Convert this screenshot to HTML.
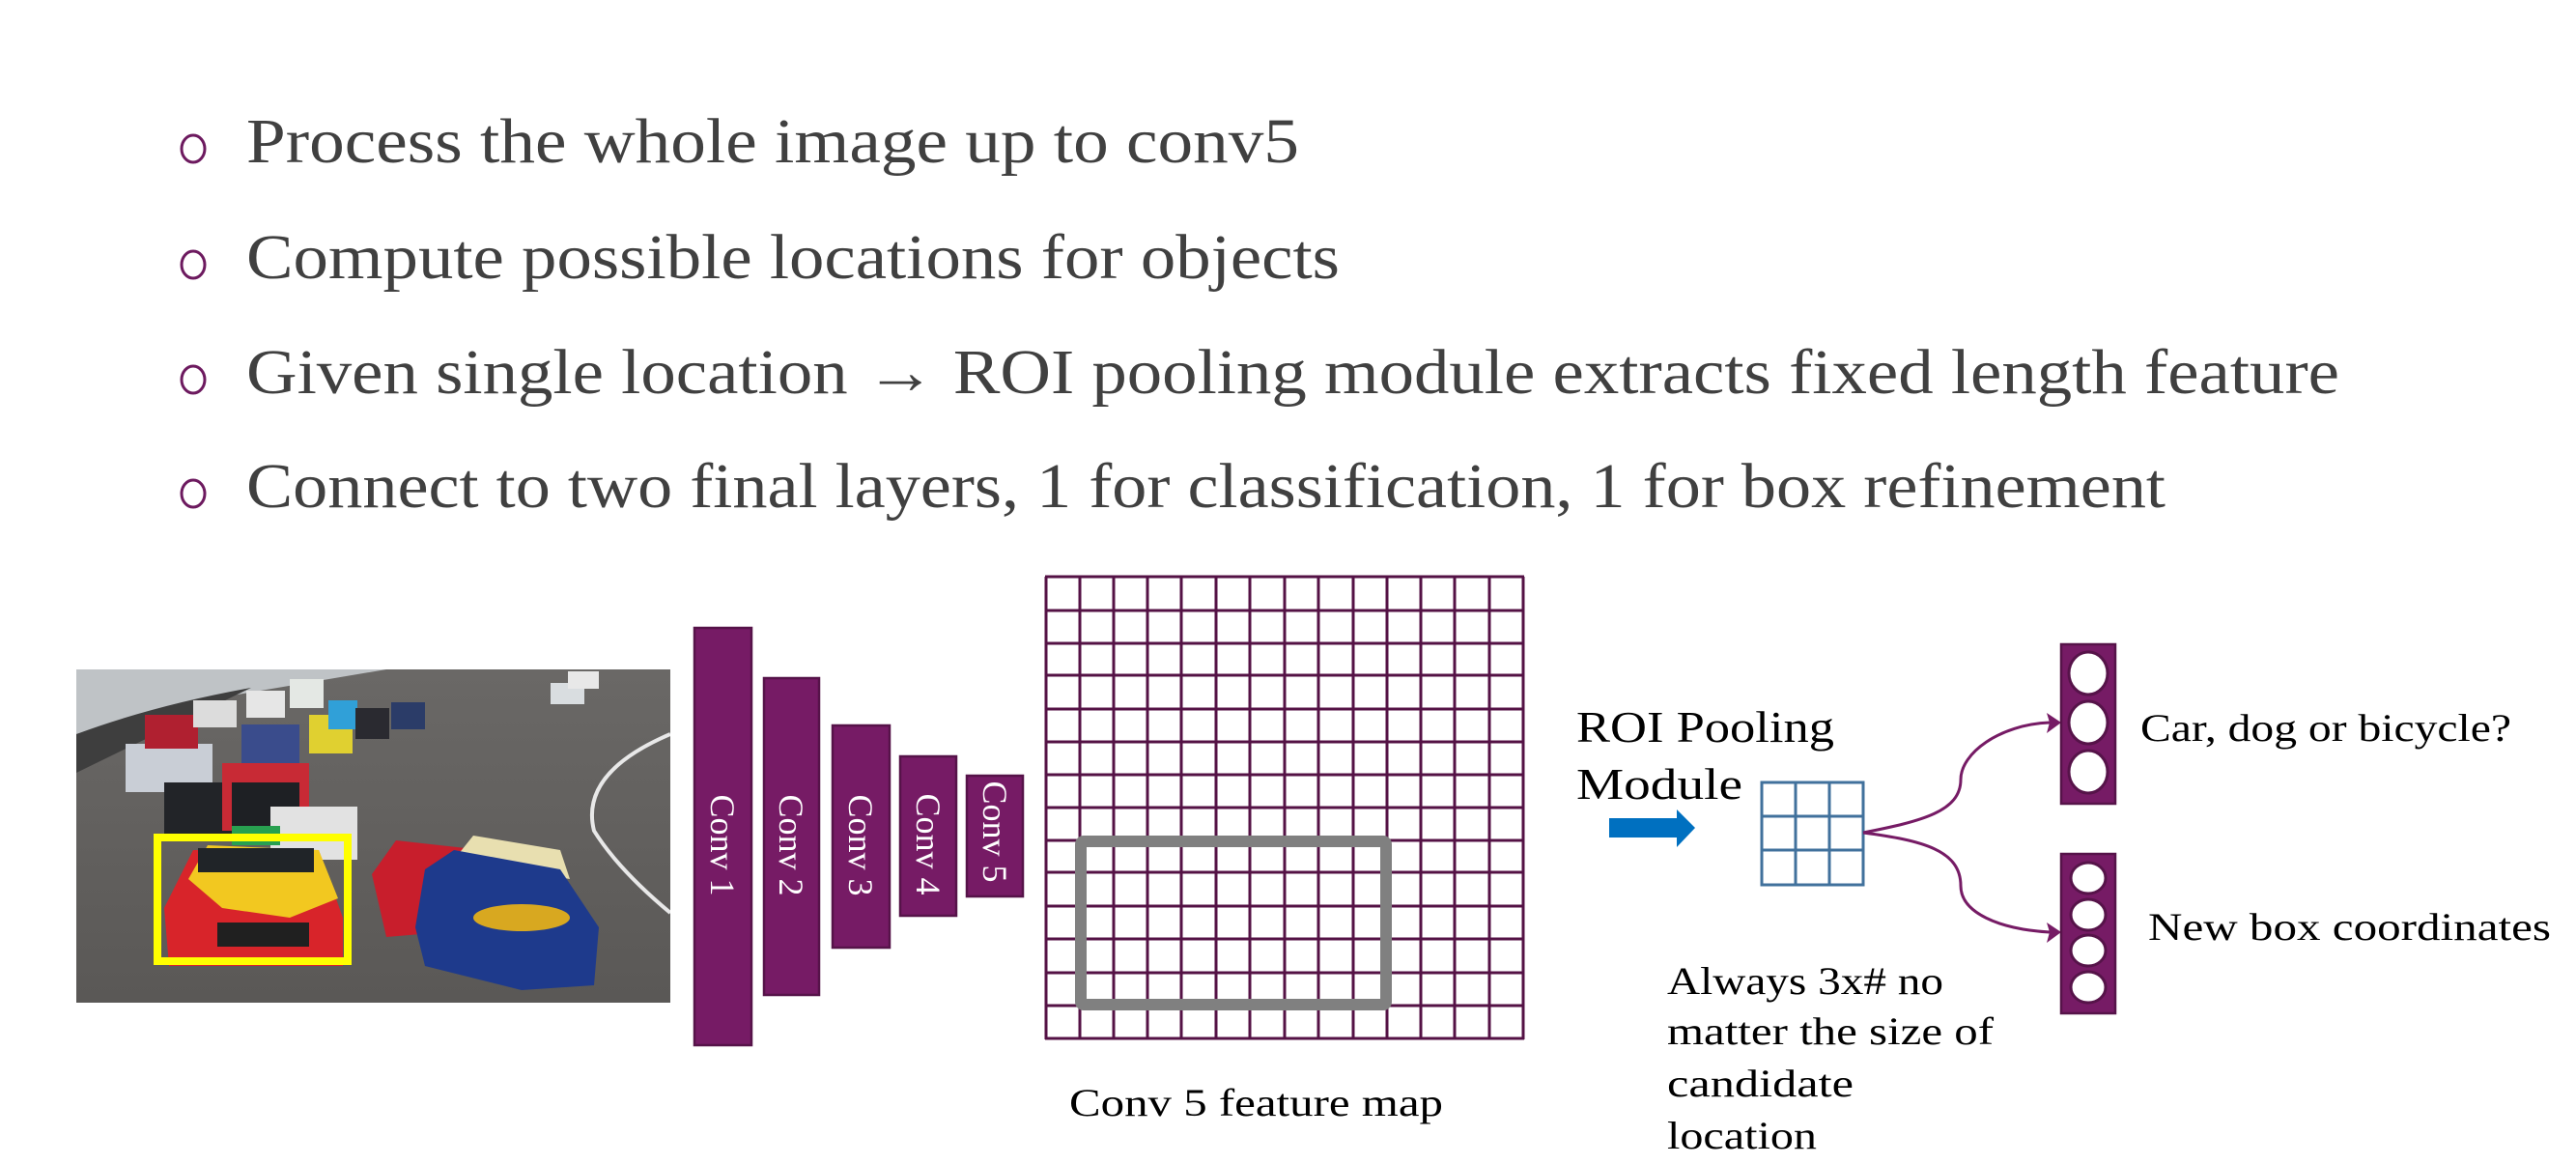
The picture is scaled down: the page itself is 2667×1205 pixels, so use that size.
<!DOCTYPE html>
<html><head><meta charset="utf-8"><style>
html,body{margin:0;padding:0;background:#fff;}
svg{display:block;}
</style></head><body>
<svg width="2667" height="1205" viewBox="0 0 2667 1205" xmlns="http://www.w3.org/2000/svg" font-family="'Liberation Serif', serif">
<rect width="2667" height="1205" fill="#fff"/>
<!-- bullets -->
<g fill="none" stroke="#6d1a5f" stroke-width="3">
<ellipse cx="200" cy="154" rx="12" ry="14"/>
<ellipse cx="200" cy="274" rx="12" ry="14"/>
<ellipse cx="200" cy="393" rx="12" ry="14"/>
<ellipse cx="200" cy="511" rx="12" ry="14"/>
</g>
<g fill="#404040" font-size="66">
<text x="255" y="168" textLength="1090" lengthAdjust="spacingAndGlyphs">Process the whole image up to conv5</text>
<text x="255" y="288" textLength="1132" lengthAdjust="spacingAndGlyphs">Compute possible locations for objects</text>
<text x="255" y="407" textLength="2167" lengthAdjust="spacingAndGlyphs">Given single location → ROI pooling module extracts fixed length feature</text>
<text x="255" y="525" textLength="1987" lengthAdjust="spacingAndGlyphs">Connect to two final layers, 1 for classification, 1 for box refinement</text>
</g>
<!-- photo -->
<defs>
<linearGradient id="asph" x1="0" y1="0" x2="0" y2="1">
<stop offset="0" stop-color="#6a6866"/><stop offset="1" stop-color="#5a5856"/>
</linearGradient>
<clipPath id="ph"><rect x="79" y="693" width="615" height="345"/></clipPath>
</defs>
<g clip-path="url(#ph)">
<rect x="79" y="693" width="615" height="345" fill="url(#asph)"/>
<polygon points="79,693 400,693 240,720 79,760" fill="#bfc3c6"/>
<path d="M79,760 Q160,730 260,712 L79,800 Z" fill="#3e3e3e"/>
<path d="M694,760 Q600,800 615,860 Q640,900 694,945" fill="none" stroke="#e8e8e8" stroke-width="4"/>
<!-- distant cars -->
<rect x="130" y="770" width="90" height="50" fill="#c9ced6"/>
<rect x="150" y="740" width="55" height="35" fill="#b02030"/>
<rect x="200" y="725" width="45" height="28" fill="#dcdcdc"/>
<rect x="255" y="715" width="40" height="28" fill="#e6e6e6"/>
<rect x="300" y="703" width="35" height="30" fill="#e4e8e4"/>
<rect x="250" y="750" width="60" height="40" fill="#3a4c8c"/>
<rect x="320" y="740" width="45" height="40" fill="#e0d030"/>
<rect x="340" y="725" width="30" height="30" fill="#30a0d8"/>
<rect x="368" y="733" width="35" height="32" fill="#2a2a30"/>
<rect x="405" y="727" width="35" height="28" fill="#2b3c68"/>
<rect x="570" y="707" width="35" height="22" fill="#d9dde0"/>
<rect x="588" y="695" width="32" height="18" fill="#e8e8e8"/>
<rect x="170" y="810" width="110" height="60" fill="#222428"/>
<rect x="230" y="790" width="90" height="70" fill="#c82a35"/>
<rect x="240" y="810" width="70" height="60" fill="#1e2024"/>
<rect x="280" y="835" width="90" height="55" fill="#e2e2e2"/>
<rect x="240" y="855" width="50" height="20" fill="#28a050"/>
<!-- red car and blue car -->
<path d="M385,905 L410,870 L500,880 L520,960 L400,970 Z" fill="#c81e2c"/>
<path d="M470,890 L490,865 L580,880 L590,910 Z" fill="#e8dfb0"/>
<path d="M430,960 L440,900 L470,880 L580,900 L620,960 L615,1020 L540,1025 L440,1000 Z" fill="#1e3a8c"/>
<ellipse cx="540" cy="950" rx="50" ry="14" fill="#d8a820"/>
<!-- yellow car -->
<path d="M170,940 L200,880 L330,880 L355,950 L355,1000 L175,1000 Z" fill="#d8242a"/>
<path d="M195,910 L215,875 L330,880 L350,930 L300,950 L230,940 Z" fill="#f2c820"/>
<rect x="205" y="878" width="120" height="25" fill="#202428"/>
<rect x="225" y="955" width="95" height="25" fill="#202020"/>
</g>
<rect x="163" y="867" width="197" height="128" fill="none" stroke="#ffff00" stroke-width="8"/>
<!-- conv blocks -->
<g fill="#761b65" stroke="#561349" stroke-width="2.5">
<rect x="719" y="650" width="59" height="432"/>
<rect x="791" y="702" width="57" height="328"/>
<rect x="862" y="751" width="59" height="230"/>
<rect x="932" y="783" width="58" height="165"/>
<rect x="1001" y="803" width="58" height="125"/>
</g>
<g fill="#fff" font-size="36" text-anchor="middle">
<text transform="translate(748,875) rotate(90)" dy="12">Conv 1</text>
<text transform="translate(819,875) rotate(90)" dy="12">Conv 2</text>
<text transform="translate(891,875) rotate(90)" dy="12">Conv 3</text>
<text transform="translate(961,874) rotate(90)" dy="12">Conv 4</text>
<text transform="translate(1030,861) rotate(90)" dy="12">Conv 5</text>
</g>
<!-- feature grid -->
<g stroke="#541245" stroke-width="3">
<path d="M1083,597V1076M1118,597V1076M1153,597V1076M1188,597V1076M1223,597V1076M1259,597V1076M1294,597V1076M1330,597V1076M1365,597V1076M1401,597V1076M1436,597V1076M1471,597V1076M1506,597V1076M1542,597V1076M1577,597V1076"/>
<path d="M1082,597H1578M1082,632H1578M1082,666H1578M1082,699H1578M1082,734H1578M1082,768H1578M1082,802H1578M1082,836H1578M1082,870H1578M1082,903H1578M1082,938H1578M1082,972H1578M1082,1007H1578M1082,1041H1578M1082,1075H1578"/>
</g>
<rect x="1119" y="871" width="316" height="169" rx="3" fill="none" stroke="#808080" stroke-width="12"/>
<text x="1107" y="1155" font-size="40" fill="#000" textLength="387" lengthAdjust="spacingAndGlyphs">Conv 5 feature map</text>
<!-- ROI -->
<text x="1632" y="768" font-size="46" fill="#000" textLength="267" lengthAdjust="spacingAndGlyphs">ROI Pooling</text>
<text x="1632" y="827" font-size="46" fill="#000" textLength="172" lengthAdjust="spacingAndGlyphs">Module</text>
<polygon points="1666,847 1736,847 1736,838 1755,857 1736,877 1736,867 1666,867" fill="#0070c0"/>
<g fill="none" stroke="#41719c" stroke-width="3">
<rect x="1824" y="810" width="105" height="106"/>
<path d="M1859,810V916M1894,810V916M1824,845H1929M1824,880H1929"/>
</g>
<!-- curves -->
<g fill="none" stroke="#761b65" stroke-width="3">
<path d="M1929,862 C1990,850 2030,840 2030,807 C2030,780 2070,750 2122,748"/>
<path d="M1929,862 C1990,870 2030,880 2030,917 C2030,945 2070,962 2122,965"/>
</g>
<polygon points="2134,748 2119,738 2122,748 2119,759" fill="#761b65"/>
<polygon points="2134,965 2119,955 2122,965 2119,976" fill="#761b65"/>
<!-- output bars -->
<g fill="#761b65" stroke="#561349" stroke-width="2.5">
<rect x="2134" y="667" width="56" height="165"/>
<rect x="2134" y="884" width="56" height="165"/>
</g>
<g fill="#fff" stroke="#561349" stroke-width="3">
<ellipse cx="2162" cy="697" rx="20" ry="22"/>
<ellipse cx="2162" cy="748" rx="20" ry="22"/>
<ellipse cx="2162" cy="799" rx="20" ry="22"/>
<ellipse cx="2162" cy="909" rx="18" ry="16"/>
<ellipse cx="2162" cy="947" rx="18" ry="16"/>
<ellipse cx="2162" cy="984" rx="18" ry="16"/>
<ellipse cx="2162" cy="1022" rx="18" ry="16"/>
</g>
<text x="2216" y="767" font-size="40" fill="#000" textLength="384" lengthAdjust="spacingAndGlyphs">Car, dog or bicycle?</text>
<text x="2224" y="973" font-size="40" fill="#000" textLength="417" lengthAdjust="spacingAndGlyphs">New box coordinates</text>
<g font-size="40" fill="#000">
<text x="1726" y="1029" textLength="286" lengthAdjust="spacingAndGlyphs">Always 3x# no</text>
<text x="1726" y="1081" textLength="338" lengthAdjust="spacingAndGlyphs">matter the size of</text>
<text x="1726" y="1135" textLength="193" lengthAdjust="spacingAndGlyphs">candidate</text>
<text x="1726" y="1189" textLength="155" lengthAdjust="spacingAndGlyphs">location</text>
</g>
</svg>
</body></html>
